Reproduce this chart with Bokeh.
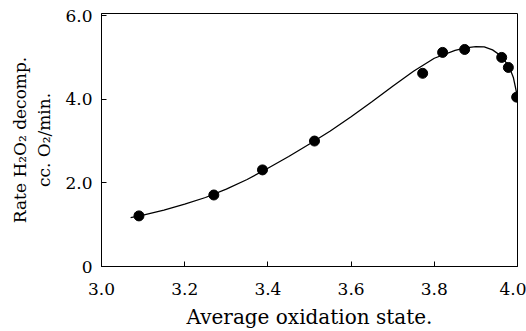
from bokeh.plotting import figure
from bokeh.models import FixedTicker, Range1d
from bokeh.embed import file_html
from bokeh.resources import INLINE

# measured points
pt_x = [3.09, 3.27, 3.387, 3.512, 3.772, 3.82, 3.873, 3.962, 3.978, 3.998]
pt_y = [1.21, 1.71, 2.31, 3.00, 4.62, 5.12, 5.19, 5.00, 4.76, 4.05]

# smooth curve
curve_x = [3.07, 3.1, 3.15, 3.2, 3.25, 3.3, 3.35, 3.4, 3.45, 3.5, 3.55, 3.6,
           3.65, 3.7, 3.75, 3.8, 3.85, 3.875, 3.9, 3.92, 3.94, 3.96, 3.98,
           3.99, 4.0]
curve_y = [1.17, 1.23, 1.35, 1.49, 1.65, 1.85, 2.08, 2.35, 2.63, 2.93, 3.24,
           3.58, 3.94, 4.31, 4.67, 4.98, 5.17, 5.23, 5.26, 5.25, 5.18, 5.04,
           4.78, 4.52, 4.05]

x_ticks = [3.0, 3.2, 3.4, 3.6, 3.8, 4.0]
x_tick_labels = ["3.0", "3.2", "3.4", "3.6", "3.8", "4.0"]
y_ticks = [0, 2, 4, 6]
y_tick_labels = ["0", "2.0", "4.0", "6.0"]

FONT = "DejaVu Serif"

p = figure(width=526, height=331, output_backend="svg", toolbar_location=None,
           x_range=Range1d(3.0, 4.0), y_range=Range1d(0, 6.05),
           min_border_left=101, min_border_right=9, min_border_top=13, min_border_bottom=64)

p.line(curve_x, curve_y, line_color="black", line_width=1.3)
p.scatter(pt_x, pt_y, size=10, color="black")

p.xgrid.visible = False
p.ygrid.visible = False
p.outline_line_color = "black"
p.outline_line_width = 1

p.xaxis.ticker = FixedTicker(ticks=x_ticks)
p.xaxis.major_label_overrides = {t: l for t, l in zip(x_ticks, x_tick_labels)}
p.yaxis.ticker = FixedTicker(ticks=y_ticks)
p.yaxis.major_label_overrides = {t: l for t, l in zip(y_ticks, y_tick_labels)}

for ax in (p.xaxis[0], p.yaxis[0]):
    ax.major_tick_in = 5
    ax.major_tick_out = 0
    ax.minor_tick_line_color = None
    ax.axis_line_color = "black"
    ax.major_tick_line_color = "black"
    ax.major_label_text_font = FONT
    ax.major_label_text_font_size = "17px"
    ax.major_label_text_color = "black"
    ax.axis_label_text_font = FONT
    ax.axis_label_text_font_style = "normal"
    ax.axis_label_text_color = "black"

p.xaxis.axis_label = "Average oxidation state."
p.xaxis.axis_label_text_font_size = "20px"
p.xaxis.major_label_standoff = 16
p.xaxis.axis_label_standoff = 7
p.yaxis.axis_label = "Rate H\u2082O\u2082 decomp.\ncc. O\u2082/min."
p.yaxis.axis_label_text_font_size = "17px"
p.yaxis.major_label_standoff = 9
p.yaxis.axis_label_standoff = 8

open("out.html", "w").write(file_html(p, INLINE))
